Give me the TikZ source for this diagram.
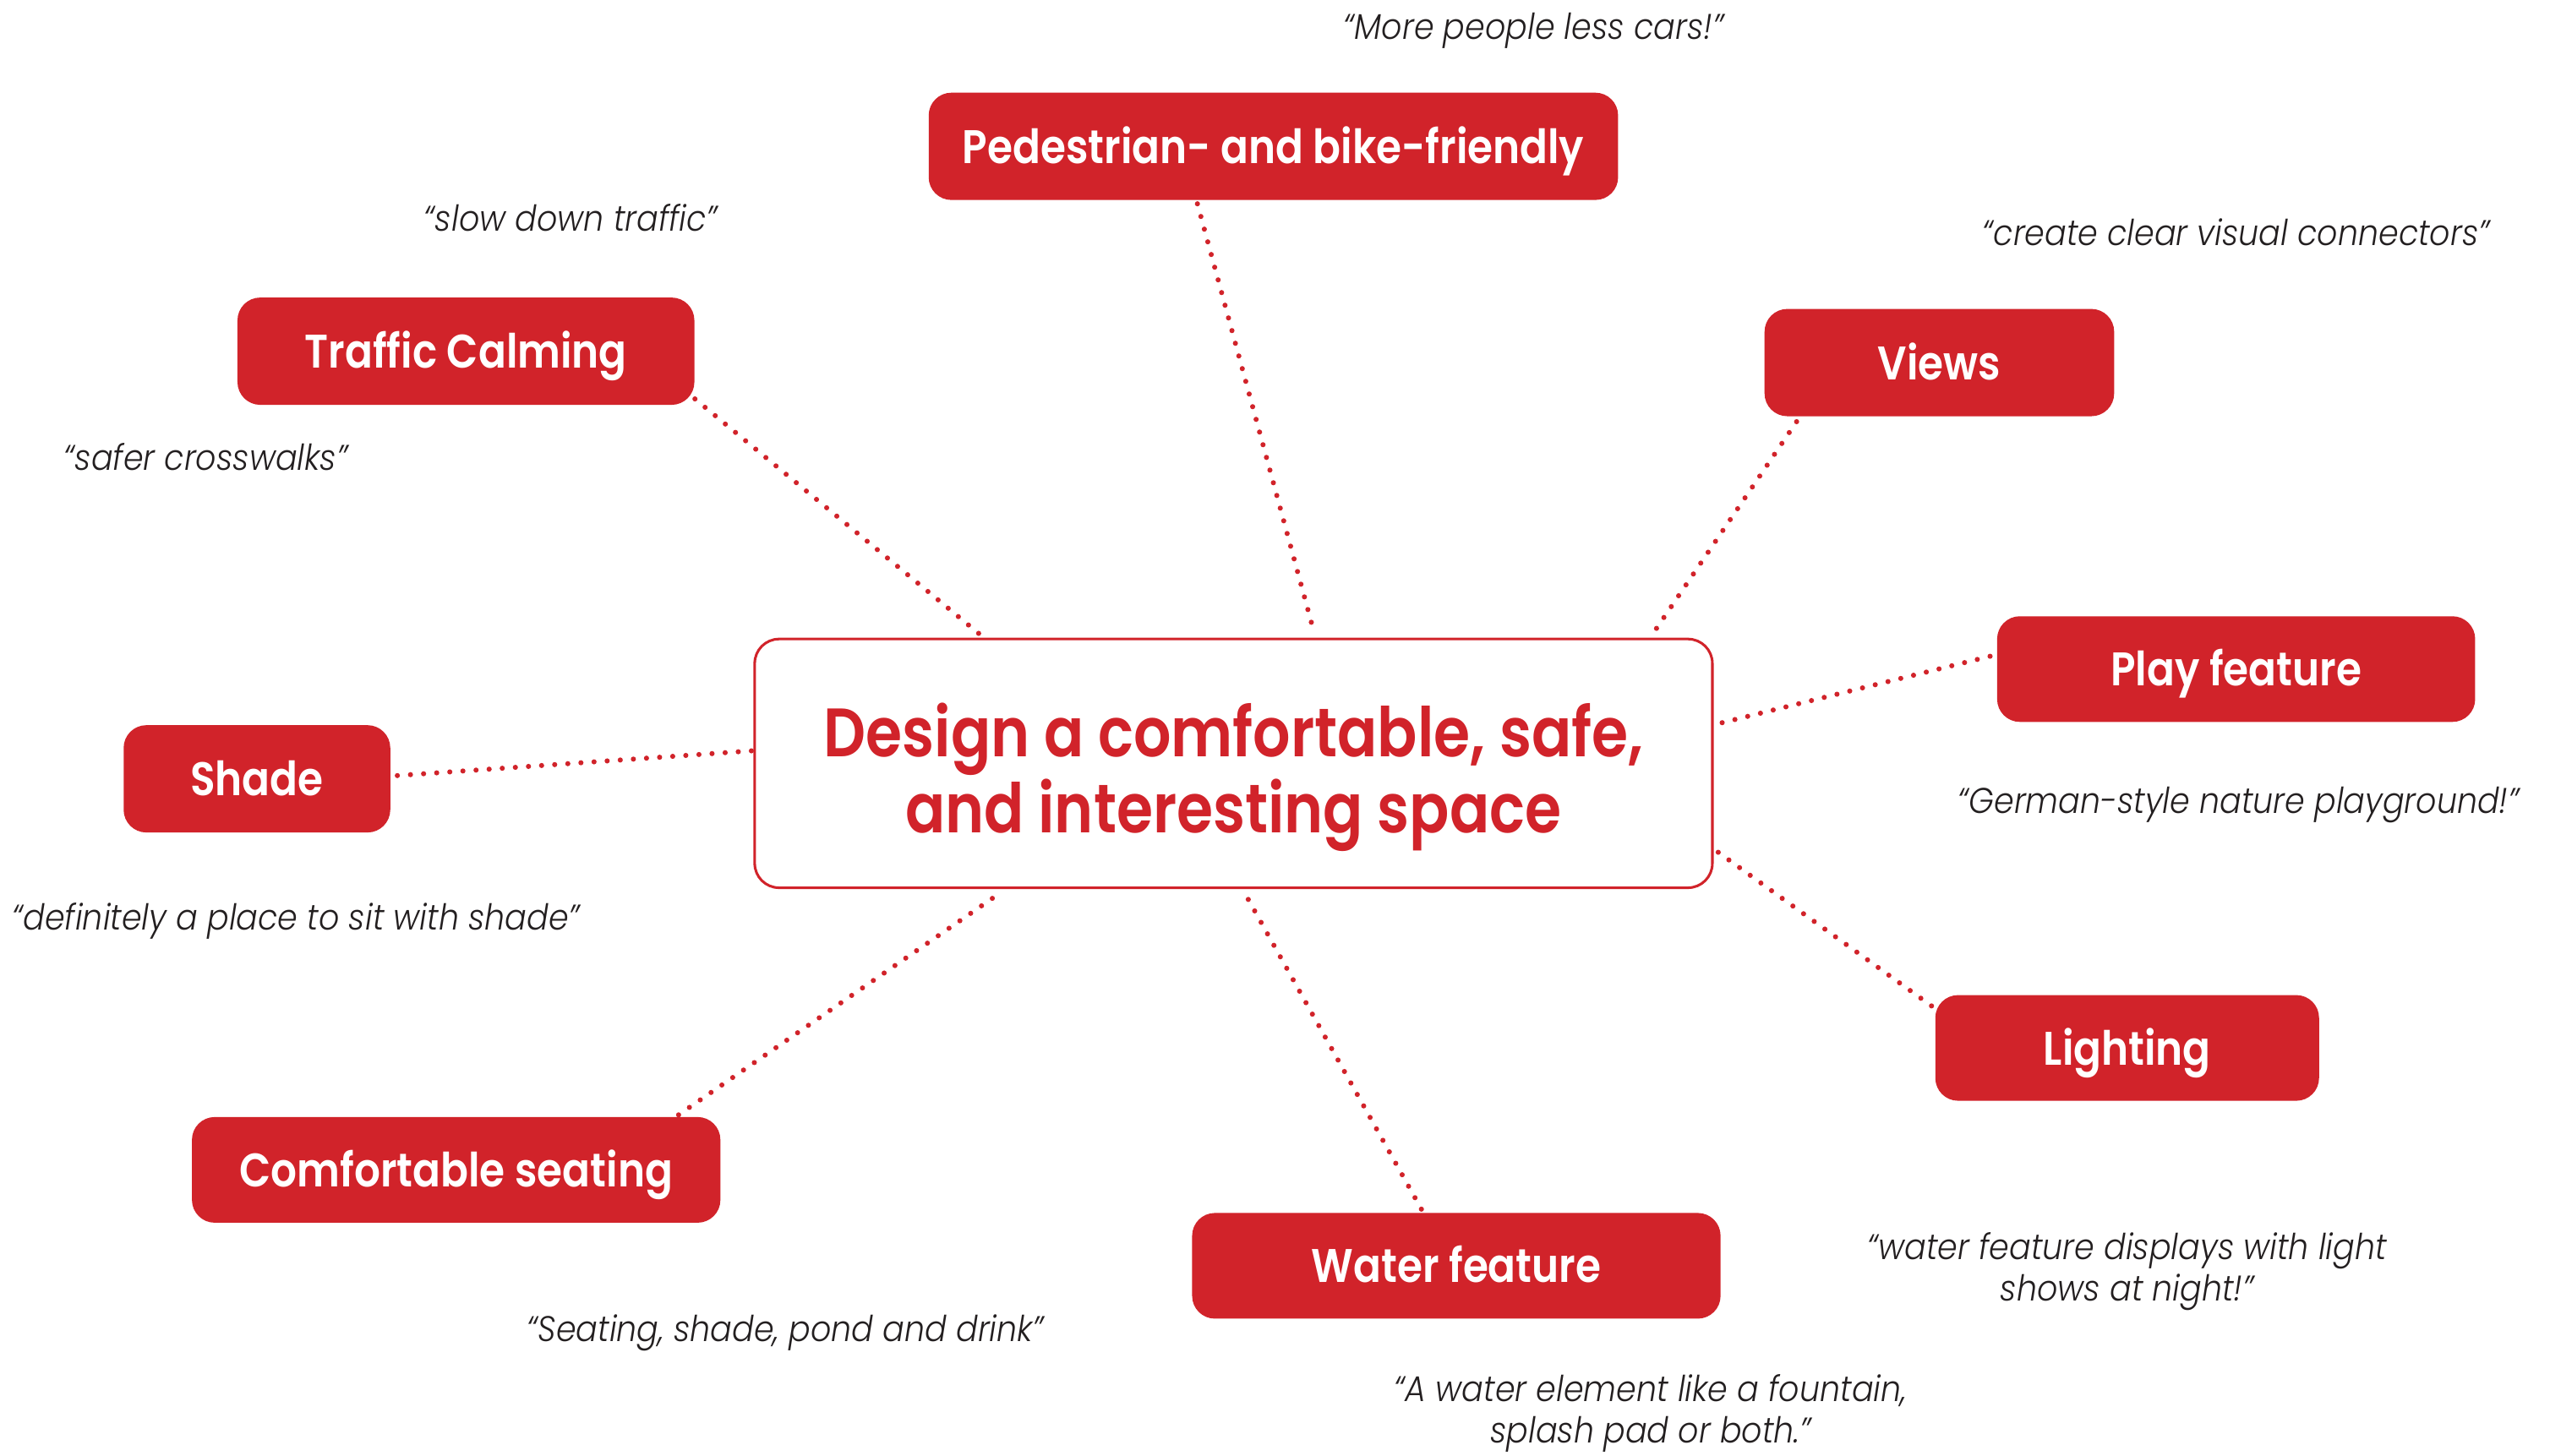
\documentclass[tikz,border=0pt]{standalone}
\usepackage{fontspec}
\setmainfont{Poppins}
\newfontfamily\boxfont{Poppins SemiBold}[FakeStretch=0.87]
\newfontfamily\mainfont{Poppins SemiBold}[FakeStretch=0.86]
\newfontfamily\quotefont{Poppins Light Italic}[FakeStretch=0.9]
\usetikzlibrary{calc}
\definecolor{dred}{HTML}{D1232A}
\definecolor{qgray}{HTML}{231F20}
\tikzset{
  redbox/.style={draw=none, fill=dred, rounded corners=0.28cm, text=white,
    font=\boxfont\fontsize{16.5}{18}\selectfont, inner sep=0pt,
    minimum height=1.32cm, text height=11.8pt, text depth=0pt},
  mainbox/.style={draw=dred, line width=0.9pt, fill=white, rounded corners=0.3cm,
    minimum width=11.78cm, minimum height=3.06cm, inner sep=0pt},
  maintext/.style={text=dred, font=\mainfont\fontsize{24}{24.5}\selectfont, align=center, inner sep=0pt},
  quote/.style={text=qgray, font=\quotefont\fontsize{12.5}{14.5}\selectfont, inner sep=0pt, align=center},
  conn/.style={draw=dred, line width=1.8pt, line cap=round, dash pattern=on 0pt off 4.6pt}
}
\begin{document}
\begin{tikzpicture}[x=0.02cm, y=-0.02cm]
\useasboundingbox[fill=white] (0,0) rectangle (1568,895);

% central node
\node[mainbox] (center) at (758.5,469.5) {};
\node[maintext] (centertext) at (758.5,478) {Design a comfortable, safe,\\and interesting space};

% topic boxes
\node[redbox, minimum width=8.48cm] (ped) at (783,90) {Pedestrian- and bike-friendly};
\node[redbox, minimum width=5.62cm] (traffic) at (286.5,216) {Traffic Calming};
\node[redbox, minimum width=4.30cm] (views) at (1192.5,223) {Views};
\node[redbox, minimum width=5.88cm, minimum height=1.30cm] (play) at (1375,411.5) {Play feature};
\node[redbox, minimum width=3.28cm] (shade) at (158,479) {Shade};
\node[redbox, minimum width=4.72cm, minimum height=1.30cm] (light) at (1308,644.5) {Lighting};
\node[redbox, minimum width=6.50cm, minimum height=1.30cm] (seat) at (280.5,719.5) {Comfortable seating};
\node[redbox, minimum width=6.50cm, minimum height=1.30cm] (water) at (895.5,778.5) {Water feature};

% quotes
\node[quote, anchor=base] (q1) at (943,24) {“More people less cars!”};
\node[quote, anchor=base] (q2) at (351,142) {“slow down traffic”};
\node[quote, anchor=base] (q3) at (1375,151) {“create clear visual connectors”};
\node[quote, anchor=base] (q4) at (126.5,289) {“safer crosswalks”};
\node[quote, anchor=base] (q5) at (1376.5,500) {“German-style nature playground!”};
\node[quote, anchor=base] (q6) at (182,572) {“definitely a place to sit with shade”};
\node[quote, anchor=base] (q7) at (483,825) {“Seating, shade, pond and drink”};
\node[quote, anchor=center] (q8) at (1308,782) {“water feature displays with light\\shows at night!”};
\node[quote, anchor=center] (q9) at (1015,869) {“A water element like a fountain,\\splash pad or both.”};

% connectors
\draw[conn] ($(ped.south west)!0.39!(ped.south east)+(0,2)$) -- ($(center.north west)!0.584!(center.north east)+(0,-3)$);
\draw[conn] ($(traffic.south east)+(0,-4)$) -- ($(center.north west)!0.238!(center.north east)+(0,-1)$);
\draw[conn] ($(views.south west)!0.093!(views.south east)+(0,3)$) -- ($(center.north west)!0.935!(center.north east)+(0,-1)$);
\draw[conn] ($(play.north west)!0.38!(play.south west)+(-4,0)$) -- ($(center.north east)!0.34!(center.south east)+(4,0)$);
\draw[conn] ($(shade.east)+(4,-2)$) -- ($(center.north west)!0.45!(center.south west)+(-1,0)$);
\draw[conn] ($(light.north west)+(-2,7)$) -- ($(center.north east)!0.85!(center.south east)+(2,0)$);
\draw[conn] ($(seat.north west)!0.92!(seat.north east)+(0,-1)$) -- ($(center.south west)!0.258!(center.south east)+(0,2)$);
\draw[conn] ($(water.north west)!0.434!(water.north east)+(0,-2)$) -- ($(center.south west)!0.514!(center.south east)+(0,5)$);
\end{tikzpicture}
\end{document}
